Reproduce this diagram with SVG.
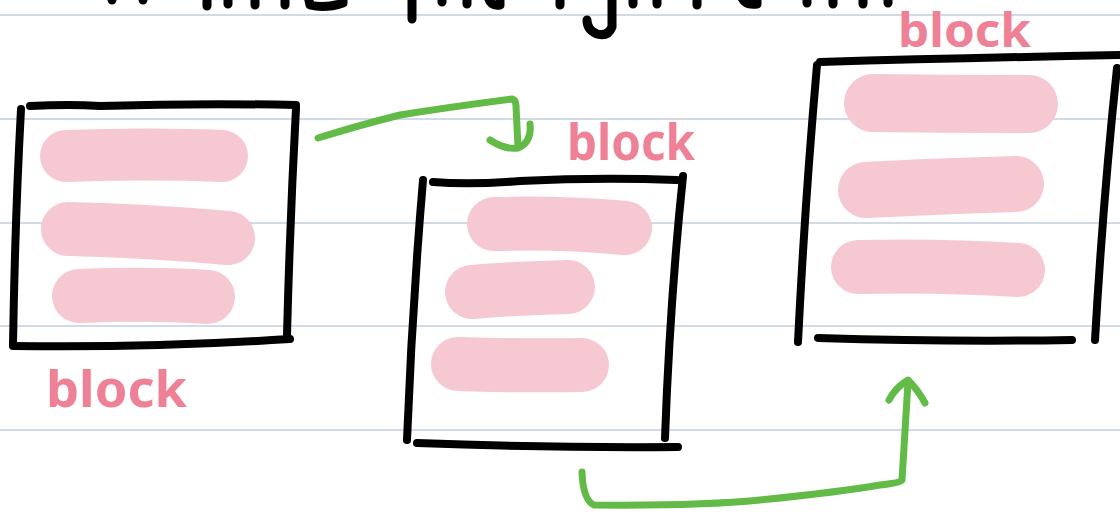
<svg xmlns="http://www.w3.org/2000/svg" width="1120" height="512" viewBox="0 0 1120 512">
<style>
.rule{stroke:#a7b6cf;stroke-width:1.2;fill:none}
.ink{stroke:#000;stroke-width:8;fill:none;stroke-linecap:round;stroke-linejoin:round}
.frag{stroke:#000;stroke-width:9;fill:none;stroke-linecap:round;stroke-linejoin:round}
.bar{stroke:#f6c8d2;fill:none;stroke-linecap:round;stroke-linejoin:round}
.arrow{stroke:#62bb47;stroke-width:7;fill:none;stroke-linecap:round;stroke-linejoin:round}
.lbl{fill:#ee8196;font-family:"Noto Sans","DejaVu Sans",sans-serif;font-weight:700}
</style>
<rect width="1120" height="512" fill="#fff"/>
<g id="paper">
<line class="rule" x1="0" y1="15" x2="1120" y2="15"/>
<line class="rule" x1="0" y1="119" x2="1120" y2="119"/>
<line class="rule" x1="0" y1="223" x2="1120" y2="223"/>
<line class="rule" x1="0" y1="326" x2="1120" y2="326"/>
<line class="rule" x1="0" y1="430" x2="1120" y2="430"/>
</g>
<g id="title-fragments">
<path class="frag" d="M112 -4 L112 0 M143 -4 L143 0 M207 -4 L207 6 M228 -4 L228 4 M255 -4 L255 5 M285 -4 L285 5 M308 -4 L310 5 Q325 9 343 3 L343 -4 M412 -4 L412 19 M442 -4 L442 2 M467 -4 L467 4 M488 -4 Q490 7 500 5 L500 -4 M560 -4 L560 5 M612 -4 L612 27 Q608 37 597 34 Q587 30 587 20 M633 -4 L633 4 M657 -4 L657 4 M697 -4 L697 5 M741 -4 Q745 6 757 4 L757 -4 M807 -4 L807 3 M833 -4 L833 4 M863 -4 L863 4 M888 -4 L888 3"/>
</g>
<g id="block1">
<path class="bar" stroke-width="52" d="M66 156 Q150 153 222 156"/>
<path class="bar" stroke-width="54" d="M68 229 Q150 231 228 238"/>
<path class="bar" stroke-width="54" d="M79 296 Q150 293 208 297"/>
<path class="ink" d="M30 106 Q70 104 100 106 Q200 103 296 105"/>
<path class="ink" d="M21 109 Q15 220 13 345"/>
<path class="ink" d="M296 108 Q290 220 287 335"/>
<path class="ink" d="M13 346 Q150 348 290 339"/>
<text class="lbl" x="46" y="407" font-size="50" textLength="141" lengthAdjust="spacingAndGlyphs">block</text>
</g>
<g id="block2">
<path class="bar" stroke-width="54" d="M494 224 Q560 222 625 228"/>
<path class="bar" stroke-width="54" d="M472 292 Q520 288 568 287"/>
<path class="bar" stroke-width="54" d="M458 364 Q520 366 582 365"/>
<path class="ink" d="M433 182 Q470 185 520 181 Q600 177 677 180"/>
<path class="ink" d="M423 180 Q412 310 407 440"/>
<path class="ink" d="M683 176 Q670 300 665 438"/>
<path class="ink" d="M417 443 Q550 448 678 447"/>
<text class="lbl" x="567" y="160" font-size="50" textLength="128" lengthAdjust="spacingAndGlyphs">block</text>
</g>
<g id="block3">
<path class="bar" stroke-width="58" d="M873 103 Q950 104 1029 104"/>
<path class="bar" stroke-width="56" d="M866 190 Q940 186 1016 184"/>
<path class="bar" stroke-width="54" d="M858 267 Q940 265 1018 270"/>
<path class="ink" d="M820 62 Q960 58 1124 55"/>
<path class="ink" d="M817 65 Q805 200 798 342"/>
<path class="ink" d="M1117 68 Q1103 200 1095 340"/>
<path class="ink" d="M818 338 Q950 342 1072 340"/>
<text class="lbl" x="898" y="47" font-size="46" textLength="133" lengthAdjust="spacingAndGlyphs">block</text>
</g>
<g id="connectors">
<path class="arrow" d="M318 138 Q360 125 400 115 Q450 107 512 99 Q516 100 516 106 L518 147"/>
<path class="arrow" d="M490 140 Q505 150 518 148 Q532 142 530 124"/>
<path class="arrow" d="M582 472 Q583 500 594 505 Q700 506 760 500 Q840 492 880 485 Q900 483 902 480 L908 382"/>
<path class="arrow" d="M889 400 Q895 388 908 380 Q918 390 925 403"/>
</g>
</svg>
